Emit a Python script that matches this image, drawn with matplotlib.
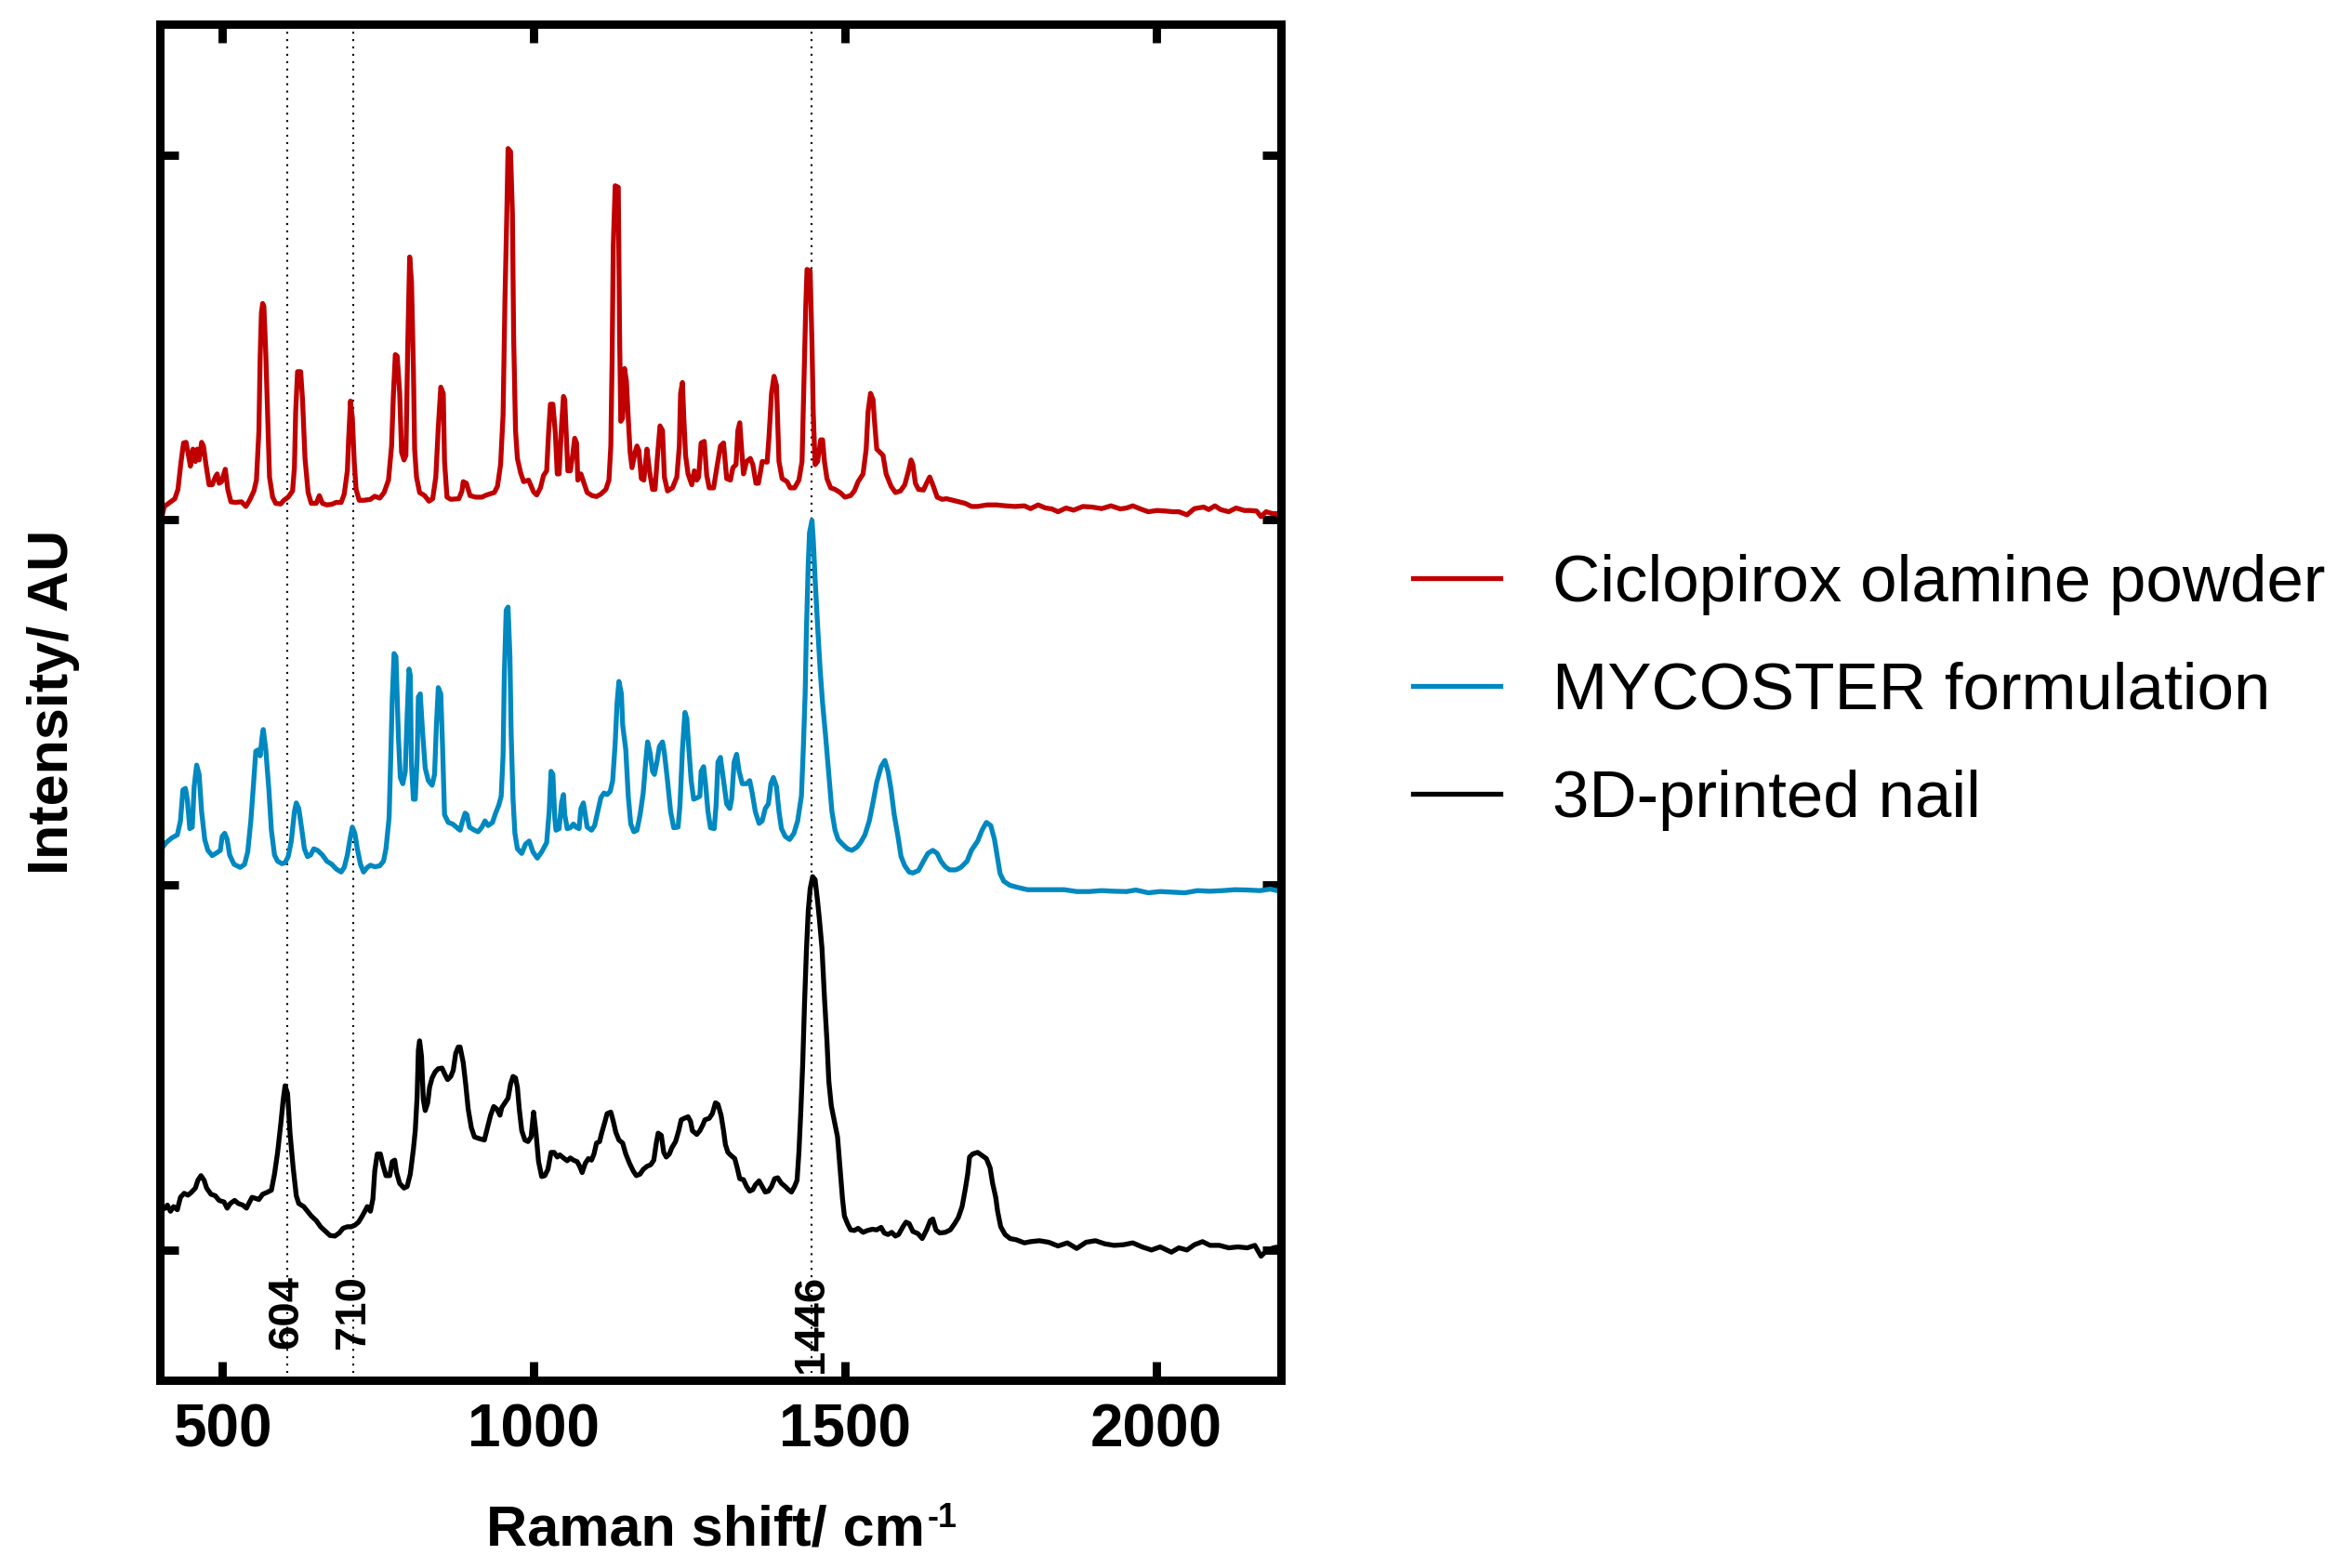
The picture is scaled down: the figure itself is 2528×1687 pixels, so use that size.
import numpy as np
import matplotlib
matplotlib.use("Agg")
import matplotlib.pyplot as plt

plt.rcParams['font.family'] = ['Liberation Sans', 'DejaVu Sans']

# Raman spectra: (wavenumber cm-1, counts)
# counts_per_step is the size of one offset step between the stacked spectra
counts_per_step = 1177.8

ciclopirox_powder = [
    (400, 23), (402, -2), (407, 43), (414, 53), (424, 68), (429, 98), (434, 188), (438, 248),
    (442, 250), (445, 218), (449, 173), (453, 228), (457, 188), (460, 228), (463, 193), (467, 250),
    (470, 238), (474, 178), (479, 113), (484, 113), (489, 138), (492, 148), (495, 118), (499, 123),
    (505, 163), (509, 98), (514, 58), (521, 56), (531, 58), (538, 43), (544, 63), (551, 93),
    (555, 128), (559, 288), (561, 528), (563, 668), (565, 698), (567, 688), (570, 538), (573, 338),
    (576, 138), (581, 73), (586, 53), (594, 51), (599, 63), (606, 73), (613, 93), (616, 168),
    (618, 348), (621, 478), (626, 478), (629, 388), (633, 198), (638, 88), (643, 53), (651, 53),
    (656, 78), (661, 53), (668, 48), (676, 50), (683, 56), (691, 56), (696, 83), (701, 158),
    (703, 258), (706, 383), (709, 328), (712, 188), (715, 98), (720, 63), (728, 63), (738, 66),
    (745, 76), (753, 70), (760, 88), (767, 128), (772, 238), (775, 408), (778, 533), (781, 528),
    (785, 408), (788, 218), (792, 193), (795, 208), (798, 568), (801, 848), (804, 768), (807, 488),
    (809, 228), (812, 138), (817, 88), (825, 78), (832, 60), (838, 68), (843, 138), (847, 298),
    (851, 428), (855, 408), (857, 188), (861, 73), (867, 66), (880, 68), (885, 93), (887, 123),
    (892, 118), (898, 78), (907, 73), (917, 73), (922, 78), (929, 83), (937, 88), (942, 108),
    (947, 178), (951, 338), (954, 708), (957, 988), (959, 1198), (963, 1188), (966, 988), (968, 588),
    (971, 288), (974, 198), (979, 153), (984, 123), (992, 128), (1000, 90), (1005, 80), (1011, 103),
    (1016, 143), (1021, 158), (1024, 278), (1027, 373), (1031, 373), (1035, 278), (1038, 148),
    (1041, 148), (1045, 308), (1048, 398), (1050, 388), (1053, 248), (1055, 158), (1059, 158),
    (1063, 213), (1066, 263), (1069, 248), (1071, 128), (1076, 148), (1081, 118), (1086, 88),
    (1094, 78), (1101, 75), (1108, 83), (1116, 98), (1121, 128), (1124, 238), (1126, 508),
    (1128, 888), (1131, 1078), (1136, 1073), (1138, 608), (1140, 318), (1143, 328), (1146, 488),
    (1149, 448), (1152, 328), (1155, 218), (1158, 168), (1163, 218), (1166, 238), (1169, 223),
    (1173, 133), (1177, 128), (1182, 228), (1186, 158), (1191, 98), (1195, 98), (1199, 208),
    (1203, 303), (1207, 288), (1210, 138), (1215, 93), (1223, 103), (1230, 138), (1234, 238),
    (1236, 408), (1239, 443), (1241, 338), (1244, 208), (1248, 148), (1254, 113), (1258, 158),
    (1262, 128), (1265, 138), (1269, 248), (1274, 253), (1278, 143), (1282, 103), (1289, 103),
    (1295, 178), (1300, 238), (1305, 248), (1310, 133), (1316, 128), (1320, 168), (1325, 178),
    (1328, 288), (1331, 313), (1334, 228), (1337, 148), (1342, 188), (1348, 198), (1352, 178),
    (1357, 118), (1361, 118), (1365, 163), (1367, 188), (1375, 186), (1378, 268), (1382, 408),
    (1386, 463), (1390, 433), (1392, 308), (1394, 188), (1399, 133), (1407, 123), (1412, 103),
    (1419, 103), (1426, 128), (1431, 188), (1434, 438), (1437, 688), (1439, 808), (1444, 803),
    (1447, 568), (1449, 348), (1452, 178), (1456, 188), (1461, 258), (1464, 258), (1467, 188),
    (1471, 133), (1477, 103), (1484, 98), (1492, 88), (1500, 73), (1509, 78), (1515, 93),
    (1521, 123), (1529, 148), (1534, 228), (1537, 348), (1541, 408), (1545, 388), (1547, 328),
    (1551, 228), (1556, 218), (1561, 208), (1566, 148), (1574, 108), (1581, 88), (1589, 93),
    (1596, 113), (1602, 158), (1606, 193), (1609, 178), (1613, 118), (1618, 98), (1626, 96),
    (1631, 118), (1636, 138), (1641, 113), (1648, 73), (1656, 66), (1663, 68), (1673, 63),
    (1683, 58), (1693, 53), (1703, 43), (1713, 43), (1728, 48), (1743, 48), (1758, 45), (1773, 43),
    (1788, 45), (1798, 36), (1810, 48), (1822, 38), (1832, 35), (1842, 26), (1855, 38), (1867, 31),
    (1882, 43), (1897, 41), (1912, 36), (1927, 45), (1942, 35), (1952, 38), (1962, 45), (1977, 33),
    (1987, 26), (2001, 30), (2016, 28), (2026, 26), (2036, 26), (2049, 16), (2061, 36), (2076, 41),
    (2084, 33), (2094, 45), (2103, 33), (2116, 26), (2128, 38), (2141, 30), (2151, 30), (2161, 28),
    (2168, 10), (2176, 26), (2186, 20), (2193, 20), (2200, 8),
]

mycoster_formulation = [
    (400, 126), (402, 114), (410, 136), (419, 151), (428, 161), (433, 206), (437, 306), (441, 311),
    (444, 276), (448, 181), (452, 186), (455, 316), (459, 386), (463, 356), (467, 236), (472, 146),
    (477, 111), (484, 94), (492, 104), (497, 111), (500, 156), (504, 166), (508, 146), (512, 96),
    (519, 66), (529, 56), (536, 66), (541, 106), (546, 206), (550, 316), (554, 431), (559, 436),
    (561, 416), (564, 476), (566, 501), (570, 436), (575, 306), (579, 176), (584, 96), (589, 76),
    (596, 68), (601, 71), (606, 91), (611, 141), (616, 236), (619, 264), (623, 246), (628, 176),
    (632, 116), (637, 91), (642, 96), (647, 116), (653, 111), (661, 96), (668, 76), (676, 66),
    (683, 51), (691, 41), (696, 56), (701, 96), (706, 156), (709, 186), (713, 166), (717, 116),
    (722, 66), (727, 41), (733, 56), (738, 63), (745, 58), (753, 61), (759, 76), (763, 116),
    (768, 216), (771, 436), (773, 596), (776, 746), (779, 736), (783, 476), (786, 346), (790, 326),
    (794, 366), (797, 546), (800, 696), (802, 676), (804, 386), (807, 276), (810, 276), (813, 406),
    (815, 606), (818, 616), (822, 486), (826, 376), (831, 336), (837, 321), (841, 356), (844, 516),
    (847, 636), (851, 616), (854, 436), (857, 226), (863, 201), (870, 196), (876, 186), (882, 176),
    (886, 206), (890, 231), (893, 226), (897, 186), (905, 176), (911, 171), (917, 186), (922, 206),
    (927, 191), (934, 201), (939, 231), (944, 256), (948, 286), (951, 416), (953, 676), (956, 886),
    (959, 896), (962, 736), (964, 486), (967, 276), (970, 166), (974, 116), (981, 101), (987, 131),
    (993, 141), (999, 106), (1006, 86), (1013, 106), (1021, 136), (1025, 236), (1028, 366),
    (1031, 356), (1034, 216), (1036, 176), (1041, 181), (1045, 266), (1048, 291), (1050, 226),
    (1054, 181), (1059, 184), (1064, 196), (1068, 186), (1073, 181), (1076, 246), (1080, 264),
    (1083, 226), (1086, 186), (1093, 176), (1098, 191), (1103, 236), (1108, 281), (1113, 296),
    (1118, 291), (1123, 301), (1127, 336), (1131, 456), (1134, 586), (1137, 656), (1141, 616),
    (1143, 516), (1148, 436), (1152, 286), (1156, 196), (1161, 171), (1166, 176), (1171, 226),
    (1176, 296), (1180, 396), (1183, 461), (1187, 426), (1191, 366), (1194, 356), (1198, 396),
    (1202, 446), (1207, 461), (1210, 426), (1215, 336), (1220, 236), (1225, 184), (1232, 186),
    (1235, 256), (1239, 436), (1243, 556), (1246, 536), (1249, 446), (1253, 336), (1257, 276),
    (1263, 281), (1267, 286), (1269, 366), (1273, 381), (1276, 326), (1280, 236), (1284, 184),
    (1290, 181), (1293, 256), (1296, 396), (1300, 411), (1305, 336), (1310, 261), (1315, 246),
    (1318, 276), (1322, 396), (1326, 421), (1330, 366), (1335, 326), (1342, 326), (1347, 336),
    (1351, 296), (1356, 236), (1362, 198), (1367, 206), (1372, 246), (1377, 261), (1381, 326),
    (1385, 346), (1390, 316), (1394, 236), (1398, 181), (1404, 156), (1411, 146), (1418, 166),
    (1424, 206), (1430, 286), (1433, 436), (1436, 616), (1438, 816), (1441, 1036), (1443, 1136),
    (1447, 1176), (1449, 1116), (1452, 986), (1456, 836), (1460, 696), (1464, 586), (1469, 476),
    (1474, 356), (1479, 236), (1484, 176), (1489, 146), (1496, 131), (1504, 116), (1511, 111),
    (1519, 121), (1525, 136), (1532, 161), (1539, 206), (1545, 266), (1551, 331), (1558, 381),
    (1564, 401), (1569, 366), (1574, 306), (1579, 226), (1585, 156), (1590, 91), (1596, 61),
    (1603, 41), (1609, 38), (1618, 46), (1626, 76), (1633, 101), (1641, 111), (1648, 101),
    (1654, 76), (1661, 58), (1668, 48), (1678, 48), (1686, 56), (1696, 76), (1703, 111),
    (1713, 141), (1720, 176), (1727, 201), (1734, 191), (1740, 146), (1745, 86), (1749, 36),
    (1755, 11), (1765, -2), (1778, -9), (1793, -16), (1812, -16), (1832, -16), (1852, -16),
    (1872, -22), (1892, -22), (1912, -19), (1932, -21), (1952, -22), (1967, -17), (1987, -26),
    (2006, -22), (2026, -24), (2046, -26), (2066, -19), (2086, -21), (2106, -19), (2126, -16),
    (2146, -17), (2166, -19), (2183, -14), (2198, -21),
]

printed_nail = [
    (400, 129), (409, 134), (412, 144), (417, 124), (422, 139), (428, 129), (433, 169), (439, 182),
    (445, 176), (450, 184), (457, 199), (461, 224), (466, 239), (471, 224), (475, 199), (482, 179),
    (489, 174), (495, 159), (503, 154), (508, 134), (513, 149), (520, 159), (526, 149), (533, 144),
    (539, 134), (544, 154), (548, 169), (553, 166), (559, 162), (565, 179), (571, 184), (579, 192),
    (584, 244), (589, 314), (594, 404), (598, 484), (601, 529), (605, 504), (609, 374), (614, 264),
    (619, 174), (623, 149), (631, 139), (637, 124), (643, 109), (651, 94), (658, 74), (666, 59),
    (673, 46), (681, 44), (688, 54), (694, 69), (701, 74), (707, 74), (713, 79), (719, 89),
    (725, 109), (733, 139), (738, 124), (742, 164), (745, 254), (749, 309), (754, 309), (758, 274),
    (763, 239), (769, 239), (773, 284), (777, 289), (780, 249), (785, 214), (792, 199), (797, 204),
    (802, 244), (807, 324), (810, 384), (813, 494), (815, 644), (817, 674), (820, 624), (823, 484),
    (826, 449), (830, 474), (833, 524), (837, 554), (842, 574), (847, 584), (853, 586), (858, 564),
    (862, 549), (867, 559), (871, 579), (875, 634), (879, 654), (882, 654), (887, 604), (891, 534),
    (895, 454), (900, 394), (905, 364), (912, 359), (921, 354), (926, 394), (931, 434), (936, 462),
    (941, 454), (946, 434), (949, 459), (954, 474), (959, 489), (963, 534), (967, 559), (971, 554),
    (974, 524), (977, 454), (981, 384), (986, 354), (991, 349), (996, 364), (1000, 444),
    (1004, 374), (1008, 284), (1013, 236), (1018, 239), (1023, 259), (1028, 314), (1033, 314),
    (1038, 299), (1042, 306), (1048, 296), (1054, 287), (1059, 296), (1064, 289), (1070, 284),
    (1074, 269), (1078, 249), (1083, 279), (1088, 294), (1093, 289), (1097, 309), (1101, 344),
    (1106, 349), (1109, 374), (1114, 409), (1118, 439), (1124, 444), (1128, 414), (1132, 379),
    (1137, 354), (1143, 344), (1148, 309), (1154, 279), (1160, 254), (1165, 239), (1171, 244),
    (1176, 259), (1182, 269), (1188, 274), (1193, 289), (1197, 344), (1200, 376), (1205, 369),
    (1209, 314), (1213, 299), (1218, 309), (1222, 329), (1228, 349), (1233, 384), (1237, 419),
    (1242, 424), (1248, 429), (1252, 414), (1255, 384), (1262, 372), (1267, 384), (1272, 404),
    (1275, 419), (1282, 424), (1287, 439), (1292, 474), (1296, 469), (1301, 434), (1305, 384),
    (1308, 339), (1312, 314), (1317, 304), (1323, 294), (1327, 264), (1331, 229), (1337, 226),
    (1342, 204), (1347, 189), (1352, 194), (1356, 209), (1362, 222), (1367, 204), (1372, 186),
    (1377, 189), (1382, 204), (1387, 229), (1392, 232), (1398, 214), (1404, 204), (1409, 194),
    (1414, 186), (1419, 204), (1423, 224), (1426, 314), (1429, 444), (1432, 594), (1435, 794),
    (1438, 964), (1441, 1094), (1444, 1164), (1448, 1204), (1452, 1194), (1456, 1124),
    (1459, 1064), (1463, 974), (1467, 814), (1471, 674), (1474, 544), (1478, 464), (1483, 414),
    (1488, 364), (1492, 264), (1496, 164), (1499, 109), (1504, 84), (1509, 64), (1515, 62),
    (1521, 69), (1529, 56), (1536, 62), (1544, 66), (1551, 64), (1558, 72), (1563, 54), (1569, 49),
    (1575, 56), (1581, 44), (1586, 49), (1593, 74), (1598, 89), (1603, 84), (1609, 59), (1617, 52),
    (1624, 36), (1631, 64), (1637, 94), (1641, 99), (1646, 64), (1652, 54), (1661, 56), (1669, 64),
    (1676, 84), (1682, 104), (1688, 139), (1693, 194), (1697, 244), (1700, 299), (1705, 309),
    (1713, 314), (1720, 304), (1727, 294), (1733, 264), (1737, 214), (1742, 169), (1745, 124),
    (1750, 74), (1757, 49), (1765, 36), (1775, 32), (1788, 22), (1798, 26), (1812, 29), (1827, 24),
    (1842, 12), (1857, 22), (1872, 4), (1887, 24), (1902, 29), (1917, 19), (1932, 14), (1947, 16),
    (1962, 22), (1977, 9), (1992, -1), (2006, 9), (2024, -8), (2036, 6), (2049, -1), (2061, 16),
    (2074, 26), (2086, 14), (2101, 14), (2116, 6), (2131, 9), (2146, 6), (2158, 14), (2168, -21),
    (2178, -1), (2188, 6), (2196, 9),
]

labels = ['Ciclopirox olamine powder', 'MYCOSTER formulation', '3D-printed nail']
colors = ['#C00000', '#0088C0', '#000000']
offsets = [2, 1, 0]
marked_bands = [604, 710, 1446]

#%%
fig = plt.figure(figsize=(12.64, 8.435), dpi=200)
ax = fig.add_axes([0.06804, 0.11991, 0.47706, 0.86468])

# dotted guide lines for the marked bands, behind the spectra
for band in marked_bands:
    ax.axvline(band, color='black', lw=0.75, ls=(0, (1, 2.8)), zorder=1)
    ax.text(band, -0.07, str(band), rotation=90, ha='center', va='top', fontsize=17,
            fontweight='bold', zorder=3)

handles = []
for spectrum, label, color, offset in zip([ciclopirox_powder, mycoster_formulation, printed_nail],
                                          labels, colors, offsets):
    data = np.array(spectrum, dtype=float)
    line, = ax.plot(data[:, 0], offset + data[:, 1] / counts_per_step, color=color, lw=1.9,
                    label=label, zorder=2)
    handles.append(line)

ax.set_xlim(400, 2200)
ax.set_ylim(-0.357, 3.358)
ax.set_xticks([500, 1000, 1500, 2000])
ax.set_yticks([0, 1, 2, 3])
ax.tick_params(direction='in', length=7.2, width=3.2, top=True, right=True,
               labelleft=False, pad=9)
ax.tick_params(axis='x', labelsize=23)
for lbl in ax.get_xticklabels():
    lbl.set_fontweight('bold')
for side in ['left', 'right', 'top', 'bottom']:
    ax.spines[side].set_linewidth(3.24)

ax.set_xlabel('Raman shift/ cm', fontsize=22, fontweight='bold')
ax.xaxis.label.set_va('baseline')
ax.xaxis.set_label_coords(0.487, -0.1222)
ax.annotate('-1', xy=(1.0, 1.0), xycoords=ax.xaxis.label, xytext=(1, 1),
            textcoords='offset points', ha='left', va='top', fontsize=13, fontweight='bold')

ax.set_ylabel('Intensity/ AU', fontsize=22, fontweight='bold')
ax.yaxis.set_label_coords(-0.0713, 0.5)

fig.legend(handles, labels, loc='center left', bbox_to_anchor=(0.6013, 0.5584), frameon=False,
           fontsize=25.5, handlelength=1.33, handletextpad=0.79, labelspacing=0.71,
           borderpad=0, borderaxespad=0)

fig.savefig('out.png', dpi=200)
